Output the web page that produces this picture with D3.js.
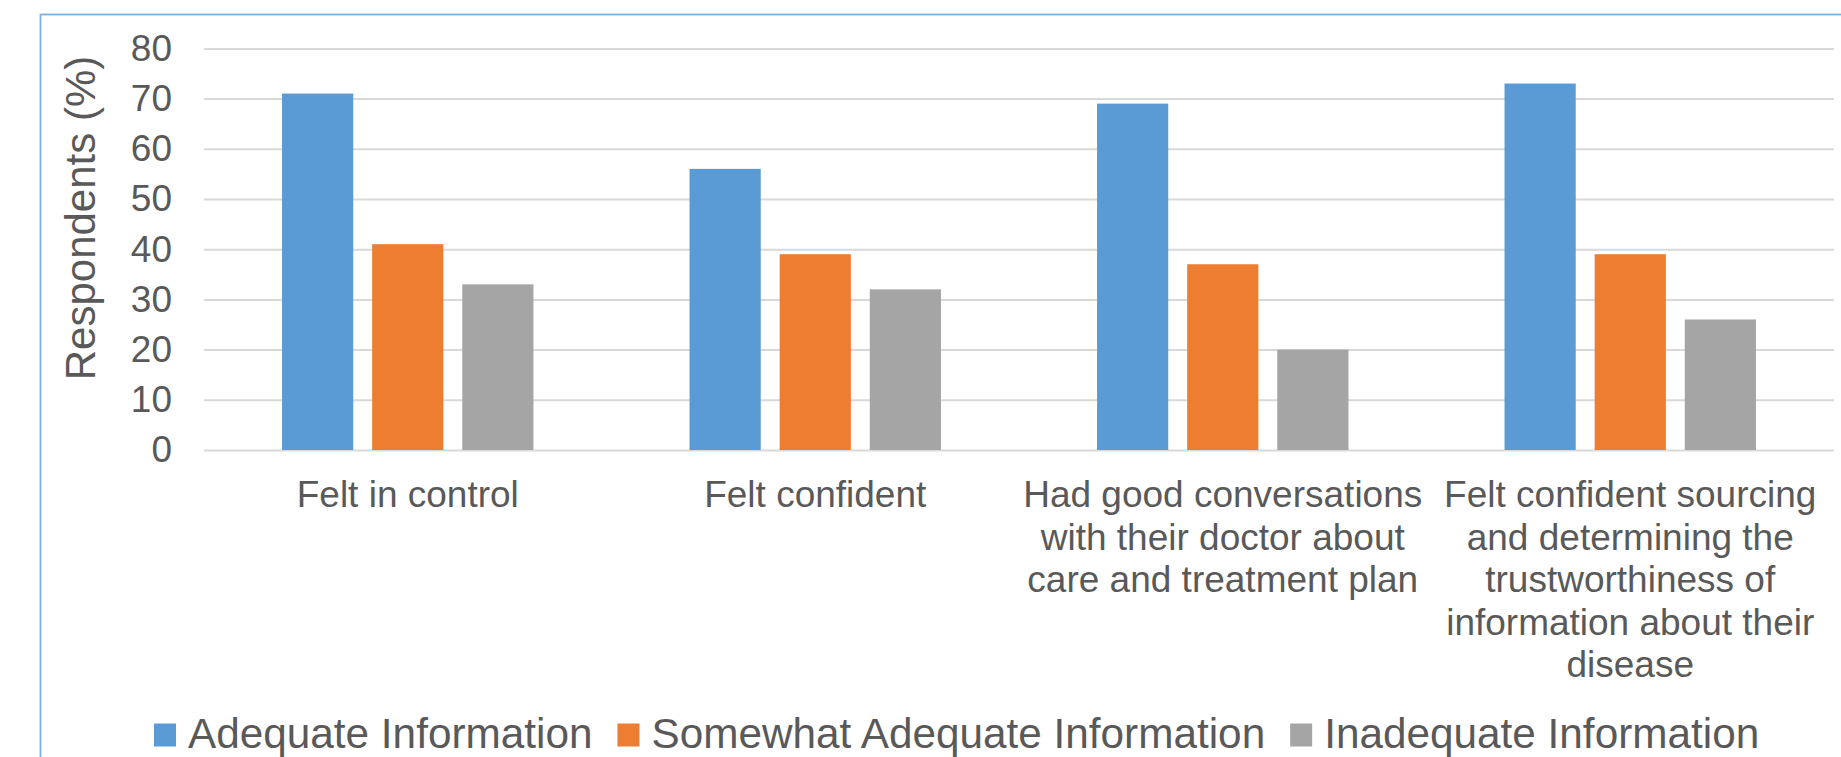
<!DOCTYPE html>
<html>
<head>
<meta charset="utf-8">
<script src="https://cdn.jsdelivr.net/npm/d3@7"></script>
<style>
  html, body { margin: 0; padding: 0; background: #fff; }
  svg { display: block; }
  text { font-family: "Liberation Sans", Arial, sans-serif; fill: #595959; }
</style>
</head>
<body>
<svg id="chart" width="1841" height="757"></svg>
<script>
// ---- data ----
const categories = [
  "Felt in control",
  "Felt confident",
  "Had good conversations with their doctor about care and treatment plan",
  "Felt confident sourcing and determining the trustworthiness of information about their disease"
];
const seriesNames = ["Adequate Information", "Somewhat Adequate Information", "Inadequate Information"];
const adequate = [71, 56, 69, 73];
const somewhat = [41, 39, 37, 39];
const inadequate = [33, 32, 20, 26];
const yTicks = [0, 10, 20, 30, 40, 50, 60, 70, 80];
const yTitle = "Respondents (%)";
const colors = ["#5B9BD5", "#ED7D31", "#A5A5A5"];

const seriesValues = [adequate, somewhat, inadequate];

// ---- layout ----
const W = 1841, H = 757;
const plot = { left: 204, right: 1834, top: 48.4, bottom: 450 };

const svg = d3.select("#chart");

// chart border
svg.append("rect")
  .attr("x", 40.5).attr("y", 14.5)
  .attr("width", W).attr("height", H + 50)
  .attr("fill", "none")
  .attr("stroke", "#7EB0E0")
  .attr("stroke-width", 1.8);

const x0 = d3.scaleBand()
  .domain(categories)
  .range([plot.left, plot.right])
  .paddingInner(0).paddingOuter(0);

const bw = x0.bandwidth();
const groupW = bw * 0.617;
const x1 = d3.scaleBand()
  .domain(seriesNames)
  .range([(bw - groupW) / 2, (bw + groupW) / 2])
  .paddingInner(0.21).paddingOuter(0);

const y = d3.scaleLinear().domain([0, 80]).range([plot.bottom, plot.top]);

// gridlines
const grid = svg.append("g")
  .attr("transform", `translate(${plot.left},0)`)
  .call(d3.axisLeft(y).tickValues(yTicks).tickSize(-(plot.right - plot.left)).tickFormat(""));
grid.select(".domain").remove();
grid.selectAll("line").attr("stroke", "#D9D9D9").attr("stroke-width", 2);

// y labels
const yAxis = svg.append("g")
  .attr("transform", `translate(${plot.left},0)`)
  .call(d3.axisLeft(y).tickValues(yTicks).tickSize(0).tickPadding(32).tickFormat(d3.format("d")));
yAxis.select(".domain").remove();
yAxis.selectAll("text")
  .style("font-size", "37px")
  .style("font-family", "'Liberation Sans', Arial, sans-serif")
  .attr("fill", "#595959");

// bars
const groups = svg.append("g").selectAll("g")
  .data(categories)
  .join("g")
  .attr("transform", d => `translate(${x0(d)},0)`);

groups.selectAll("rect")
  .data((d, i) => seriesNames.map((s, j) => ({ s, j, v: seriesValues[j][i] })))
  .join("rect")
  .attr("x", d => x1(d.s))
  .attr("width", x1.bandwidth())
  .attr("y", d => y(d.v))
  .attr("height", d => y(0) - y(d.v))
  .attr("fill", d => colors[d.j]);

// category labels with wrapping
const catFont = 37, lineH = 42.5, firstBase = 507;
const cat = svg.append("g");
categories.forEach(c => {
  const cx = x0(c) + bw / 2;
  const t = cat.append("text")
    .attr("text-anchor", "middle")
    .style("font-size", catFont + "px");
  const words = c.split(" ");
  let lines = [], line = [];
  const probe = svg.append("text").style("font-size", catFont + "px");
  words.forEach(w => {
    const test = line.concat([w]).join(" ");
    probe.text(test);
    if (probe.node().getComputedTextLength() > bw - 2 && line.length) {
      lines.push(line.join(" "));
      line = [w];
    } else {
      line.push(w);
    }
  });
  if (line.length) lines.push(line.join(" "));
  probe.remove();
  lines.forEach((l, i) => {
    t.append("tspan").attr("x", cx).attr("y", firstBase + i * lineH).text(l);
  });
});

// y title
svg.append("text")
  .attr("transform", "translate(95,218) rotate(-90)")
  .attr("text-anchor", "middle")
  .style("font-size", "42px")
  .text(yTitle);

// legend
const legend = svg.append("g");
let lx = 154;
const sq = 22, lgap = 12, itemGap = 25, lBase = 747.5;
seriesNames.forEach((s, j) => {
  legend.append("rect")
    .attr("x", lx).attr("y", 723.5)
    .attr("width", sq).attr("height", 23)
    .attr("fill", colors[j]);
  const t = legend.append("text")
    .attr("x", lx + sq + lgap).attr("y", lBase)
    .style("font-size", "42.3px")
    .text(s);
  lx += sq + lgap + t.node().getComputedTextLength() + itemGap;
});
</script>
</body>
</html>
